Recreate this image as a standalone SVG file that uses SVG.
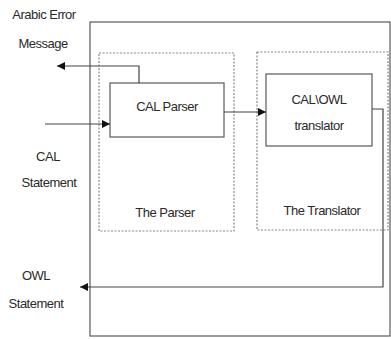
<svg xmlns="http://www.w3.org/2000/svg" width="391" height="339" viewBox="0 0 391 339">
<style>
text{font-family:"Liberation Sans",Arial,sans-serif;font-size:13px;letter-spacing:-0.5px;fill:#2a2a2a;text-anchor:middle}
.box{fill:none;stroke:#666;stroke-width:1.3}
.dash{fill:none;stroke:#888;stroke-width:1.2;stroke-dasharray:2 1.5}
.con{fill:none;stroke:#444;stroke-width:1.2}
</style>
<defs>
<marker id="ah" viewBox="0 0 10 10" refX="10" refY="5" markerWidth="8" markerHeight="8" markerUnits="userSpaceOnUse" orient="auto">
<path d="M0,0 L10,5 L0,10 z" fill="#111"/>
</marker>
</defs>
<g id="system"><rect class="box" x="90" y="22" width="300" height="314"/></g>
<g id="the-parser"><rect class="dash" x="99" y="53" width="135" height="178"/><text x="165" y="217">The Parser</text></g>
<g id="the-translator"><rect class="dash" x="257" y="52" width="131" height="178"/><text x="322" y="215">The Translator</text></g>
<g id="cal-parser"><rect class="box" x="110" y="83" width="114" height="54"/><text x="167" y="111">CAL Parser</text></g>
<g id="cal-owl-translator"><rect class="box" x="266" y="74" width="106" height="72"/><text x="319" y="104">CAL\OWL</text><text x="319" y="130">translator</text></g>
<g id="arabic-error-message"><text x="44" y="19">Arabic Error</text><text x="43" y="48">Message</text></g>
<g id="cal-statement"><text x="48" y="161">CAL</text><text x="49" y="187">Statement</text></g>
<g id="owl-statement"><text x="36" y="280">OWL</text><text x="36" y="308">Statement</text></g>
<g id="connectors">
<path class="con" d="M139,83 V66 H57" marker-end="url(#ah)"/>
<path class="con" d="M45,124 H110" marker-end="url(#ah)"/>
<path class="con" d="M224,112 H266" marker-end="url(#ah)"/>
<path class="con" d="M372,109 H383 V287 H80" marker-end="url(#ah)"/>
</g>
</svg>
